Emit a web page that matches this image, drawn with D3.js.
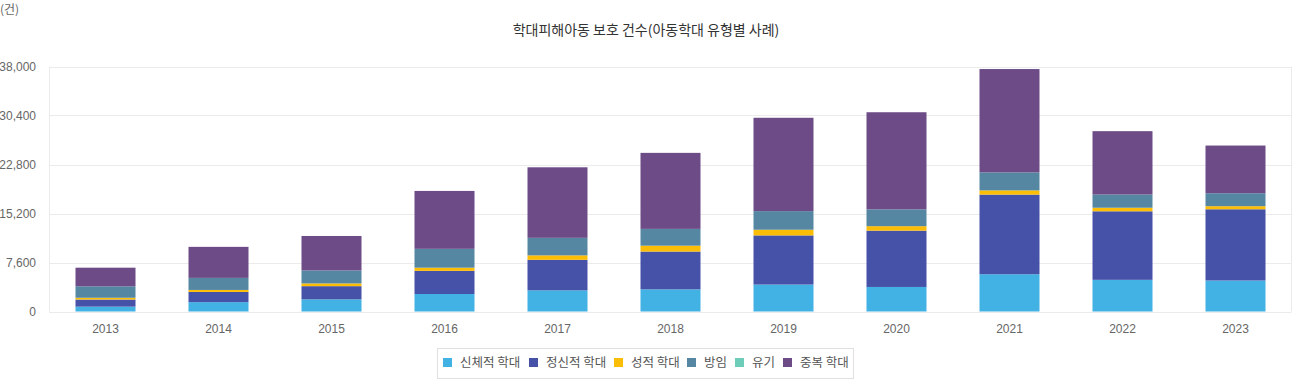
<!DOCTYPE html>
<html><head><meta charset="utf-8">
<script src="https://cdn.jsdelivr.net/npm/d3@7"></script>
<style>
html,body{margin:0;padding:0;background:#fff;}
svg{display:block;font-family:"Liberation Sans",Arial,"Noto Sans CJK KR",sans-serif;}
</style></head>
<body><svg id="c" width="1292" height="380"></svg>
<script>
const years = ["2013","2014","2015","2016","2017","2018","2019","2020","2021","2022","2023"];
const seriesNames = ["신체적 학대","정신적 학대","성적 학대","방임","유기","중복 학대"];
const physical  = [753,1453,1884,2715,3285,3436,4179,3807,5780,4911,4807];
const emotional = [1101,1582,2046,3588,4728,5862,7622,8732,12351,10632,11049];
const sexual    = [278,308,428,493,692,910,883,695,655,552,481];
const neglect   = [1778,1870,2010,2924,2720,2604,2885,2609,2793,2044,2010];
const abandon   = [0,0,0,0,0,0,0,0,0,0,0];
const multiple  = [2886,4814,5347,8980,10942,11792,14476,15062,16026,9832,7392];
const yTicks = [0,7600,15200,22800,30400,38000];
const colors = ["#42b1e4","#4652a8","#fbbd06","#5587a3","#6dcdb8","#6c4b86"];

const seriesVals = [physical,emotional,sexual,neglect,abandon,multiple];
const rows = years.map((y,i)=>{const r={year:y}; seriesNames.forEach((s,k)=>r[s]=seriesVals[k][i]); return r;});
const stack = d3.stack().keys(seriesNames)(rows);

const svg = d3.select("#c");
const m = {l:49, r:1292, t:66.5, b:311.5};
const x = d3.scaleBand().domain(years).range([m.l,m.r]).paddingInner(0).paddingOuter(0);
const y = d3.scaleLinear().domain([0,38000]).range([m.b,m.t]);
const barW = 60;

// grid
svg.append("g").selectAll("line").data(yTicks).join("line")
  .attr("x1",m.l).attr("x2",m.r-0.5).attr("y1",d=>Math.round(y(d))+0.5).attr("y2",d=>Math.round(y(d))+0.5)
  .attr("stroke","#ebebeb").attr("stroke-width",1);
svg.append("line").attr("x1",m.l+0.5).attr("x2",m.l+0.5).attr("y1",y(38000)).attr("y2",y(0)).attr("stroke","#ebebeb");
svg.append("line").attr("x1",m.r-0.5).attr("x2",m.r-0.5).attr("y1",y(38000)).attr("y2",y(0)).attr("stroke","#ebebeb");

// y axis labels
const yAxis = d3.axisLeft(y).tickValues(yTicks).tickSize(0).tickPadding(0).tickFormat(d3.format(","));
const ya = svg.append("g").attr("transform",`translate(36,0)`).call(yAxis);
ya.select(".domain").remove();
ya.selectAll("text").attr("fill","#666").style("font-size","12px").style("font-family","'Liberation Sans',Arial,sans-serif");

// x axis labels
const xAxis = d3.axisBottom(x).tickSize(0).tickPadding(0);
const xa = svg.append("g").attr("transform",`translate(0,${m.b+13})`).call(xAxis);
xa.select(".domain").remove();
xa.selectAll("text").attr("fill","#666").style("font-size","12px").style("font-family","'Liberation Sans',Arial,sans-serif");

// bars
svg.append("g").selectAll("g").data(stack).join("g")
  .attr("fill",(d,i)=>colors[i])
  .selectAll("rect").data(d=>d).join("rect")
  .attr("x",d=>x(d.data.year)+x.bandwidth()/2-barW/2)
  .attr("width",barW)
  .attr("y",d=>y(d[1]))
  .attr("height",d=>Math.max(0,y(d[0])-y(d[1])));

// title
svg.append("text").attr("x",646).attr("y",35).attr("text-anchor","middle")
  .attr("fill","#333").style("font-size","14px").style("font-family","'Noto Sans CJK KR',sans-serif")
  .text("학대피해아동 보호 건수(아동학대 유형별 사례)");
svg.append("text").attr("x",0).attr("y",14).attr("fill","#666")
  .style("font-size","12px").style("font-family","'Noto Sans CJK KR',sans-serif").text("(건)");

// legend
const lg = svg.append("g");
lg.append("rect").attr("x",437.5).attr("y",348.5).attr("width",416).attr("height",30)
  .attr("fill","#fff").attr("stroke","#e0e0e0");
const legX = [443,529,614,687,735,783];
seriesNames.forEach((s,i)=>{
  lg.append("rect").attr("x",legX[i]).attr("y",358).attr("width",9).attr("height",9).attr("fill",colors[i]);
  lg.append("text").attr("x",legX[i]+17).attr("y",367).attr("fill","#555")
    .style("font-size","12.5px").style("font-family","'Noto Sans CJK KR',sans-serif").text(s);
});
</script></body></html>
